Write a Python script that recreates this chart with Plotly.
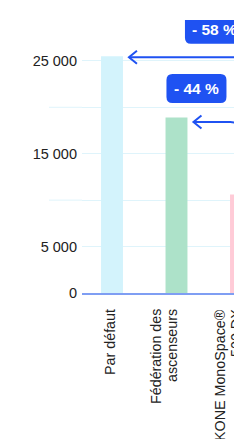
import plotly.graph_objects as go

# ---- data ----
categories = ["Par défaut", "Fédération des<br>ascenseurs", "KONE MonoSpace®<br>500 DX"]
values = [25500, 18900, 10600]
bar_colors = ["#d3f3fc", "#ade2c9", "#ffcbd7"]
y_tickvals = [0, 5000, 10000, 15000, 20000, 25000]
y_ticktext = ["0", "5 000", "", "15 000", "", "25 000"]

# ---- layout geometry (page has 8px body margin) ----
W, H = 242, 439
ML, MR, MT, MB = 74, 0, 12, 154
PX = 64.5                       # px per category
XR = [-0.465, -0.465 + (W - ML - MR) / PX]
YMAX = 29400
plot_w = W - ML - MR
plot_h = H - MT - MB
PY = plot_h / YMAX              # px per value unit
BAR_W = 0.34

FONT = "Liberation Sans, Arial, sans-serif"
BLUE = "#1f52f2"
GRID = "#dff4fb"

def dx(p):
    return p / PX

def dy(p):
    return p / PY

fig = go.Figure()
fig.add_trace(go.Bar(
    x=list(range(len(categories))), y=values, width=BAR_W,
    marker=dict(color=bar_colors, line=dict(width=0)),
    hoverinfo="skip",
))

shapes = []
annotations = []

# grid extensions for unlabeled gridlines
for v, t in zip(y_tickvals, y_ticktext):
    if t == "":
        shapes.append(dict(type="line", xref="paper", yref="y",
                           x0=-33 / plot_w, x1=0, y0=v, y1=v,
                           line=dict(color=GRID, width=1), layer="below"))

# arrows from target bar (last) to reference bars
target = len(values) - 1
arrow_off_px = [1, 4.5]     # arrow below bar top (px)
vert_off_px = [9, -1.7]     # vertical segment x offset from target bar center (px)
box_dx_px = [86, 3]
box_dy_px = [28, 33.6]
R = 9
for i in range(target):
    yh = values[i] - dy(arrow_off_px[i])
    xt = i + BAR_W / 2 + dx(6)
    xv = target + dx(vert_off_px[i])
    ye = values[target] + dy(6)
    path = (f"M {xt},{yh} L {xv - dx(R)},{yh} Q {xv},{yh} {xv},{yh - dy(R)} "
            f"L {xv},{ye}")
    shapes.append(dict(type="path", xref="x", yref="y", path=path,
                       line=dict(color=BLUE, width=2)))
    chev = (f"M {xt + dx(8)},{yh + dy(6.5)} L {xt},{yh} L {xt + dx(8)},{yh - dy(6.5)}")
    shapes.append(dict(type="path", xref="x", yref="y", path=chev,
                       line=dict(color=BLUE, width=2)))
    # label box
    cx = xt + dx(box_dx_px[i])
    cy = yh + dy(box_dy_px[i])
    hw, hh, r = dx(30), dy(14.5), 6
    x0, x1, y0, y1 = cx - hw, cx + hw, cy - hh, cy + hh
    rx, ry = dx(r), dy(r)
    box = (f"M {x0 + rx},{y1} L {x1 - rx},{y1} Q {x1},{y1} {x1},{y1 - ry} "
           f"L {x1},{y0 + ry} Q {x1},{y0} {x1 - rx},{y0} L {x0 + rx},{y0} "
           f"Q {x0},{y0} {x0},{y0 + ry} L {x0},{y1 - ry} Q {x0},{y1} {x0 + rx},{y1} Z")
    shapes.append(dict(type="path", xref="x", yref="y", path=box,
                       fillcolor=BLUE, line=dict(width=0)))
    pct = round((values[target] / values[i] - 1) * 100)
    annotations.append(dict(x=cx, y=cy, xref="x", yref="y", showarrow=False,
                            text=f"- {abs(pct)} %",
                            font=dict(family=FONT, size=15.5, color="white", weight="bold")))

# category labels (rotated), one annotation per line
for i, cat in enumerate(categories):
    lines = cat.split("<br>")
    n = len(lines)
    for j, line in enumerate(lines):
        shift = -2 if n == 1 else (j - (n - 1)) * 16 - 5
        annotations.append(dict(x=i, y=0, xref="x", yref="paper", showarrow=False,
                                text=line, textangle=-90, xanchor="center", yanchor="top",
                                xshift=shift, yshift=-14,
                                font=dict(family=FONT, size=14.3, color="#222222")))

fig.update_layout(
    width=W, height=H,
    margin=dict(l=ML, r=MR, t=MT, b=MB, pad=0),
    paper_bgcolor="white", plot_bgcolor="white",
    showlegend=False,
    shapes=shapes, annotations=annotations,
    xaxis=dict(range=XR, showticklabels=False, showgrid=False, zeroline=False,
               showline=True, linecolor="#7f9ef3", linewidth=2, ticks="",
               fixedrange=True),
    yaxis=dict(range=[0, YMAX], tickvals=y_tickvals, ticktext=y_ticktext,
               showgrid=True, gridcolor=GRID, gridwidth=1, zeroline=False,
               showline=False, ticks="", ticklabelstandoff=4,
               tickfont=dict(family=FONT, size=14.5, color="#222222"),
               fixedrange=True),
)

fig.write_html("out.html", config={"displayModeBar": False})
